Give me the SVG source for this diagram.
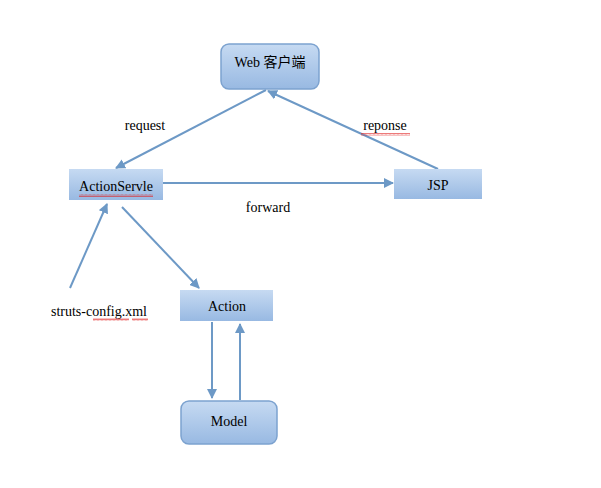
<svg xmlns="http://www.w3.org/2000/svg" width="601" height="488" viewBox="0 0 601 488">
<defs>
<linearGradient id="g" x1="0" y1="0" x2="0" y2="1">
<stop offset="0" stop-color="#c6daf2"/>
<stop offset="1" stop-color="#98b9e2"/>
</linearGradient>
<marker id="ah" viewBox="0 0 10 10" refX="9" refY="5" markerWidth="5" markerHeight="5" orient="auto" markerUnits="strokeWidth">
<path d="M0,0 L10,5 L0,10 z" fill="#6d99c6"/>
</marker>
<pattern id="sq" width="4" height="3" patternUnits="userSpaceOnUse">
<path d="M0,2.5 L1,0.5 L2,2.5 L3,0.5 L4,2.5" fill="none" stroke="#e02020" stroke-width="0.6"/>
</pattern>
</defs>
<style>
.box{fill:url(#g);}
.rbox{fill:url(#g);stroke:#7ca2cf;stroke-width:1.5;}
.t{font-family:'Liberation Serif','Times New Roman','DejaVu Serif','Noto Sans CJK SC',serif;font-size:14px;fill:#000;text-anchor:middle;}
.c{stroke:#6d99c6;stroke-width:2;fill:none;marker-end:url(#ah);}
</style>
<rect width="601" height="488" fill="#fff"/>
<g id="connectors">
<line class="c" x1="266" y1="90" x2="116" y2="168"/>
<line class="c" x1="438" y1="169" x2="268" y2="91"/>
<line class="c" x1="163" y1="183" x2="393" y2="183"/>
<line class="c" x1="70" y1="288" x2="107" y2="204"/>
<line class="c" x1="122" y1="207" x2="199" y2="288"/>
<line class="c" x1="212" y1="322" x2="212" y2="398"/>
<line class="c" x1="240" y1="400" x2="240" y2="324"/>
</g>
<g id="web">
<rect class="rbox" x="221" y="44" width="98" height="45" rx="8"/>
<text class="t" x="270" y="67">Web 客户端</text>
</g>
<g id="actionservle">
<rect class="box" x="69" y="169" width="94" height="31"/>
<text class="t" x="116" y="191">ActionServle</text>
<rect x="79" y="194" width="74" height="3" fill="url(#sq)"/>
</g>
<g id="jsp">
<rect class="box" x="394" y="169" width="88" height="30"/>
<text class="t" x="438" y="190">JSP</text>
</g>
<g id="action">
<rect class="box" x="180" y="290" width="93" height="31"/>
<text class="t" x="227" y="311">Action</text>
</g>
<g id="model">
<rect class="rbox" x="181" y="401" width="96" height="43" rx="8"/>
<text class="t" x="229" y="426">Model</text>
</g>
<g id="labels">
<text class="t" x="145" y="130">request</text>
<text class="t" x="385" y="130">reponse</text>
<rect x="361" y="133" width="49" height="3" fill="url(#sq)"/>
<text class="t" x="268" y="212">forward</text>
<text class="t" x="99" y="316">struts-config.xml</text>
<rect x="93" y="318" width="36" height="3" fill="url(#sq)"/>
<rect x="132" y="318" width="16" height="3" fill="url(#sq)"/>
</g>
</svg>
